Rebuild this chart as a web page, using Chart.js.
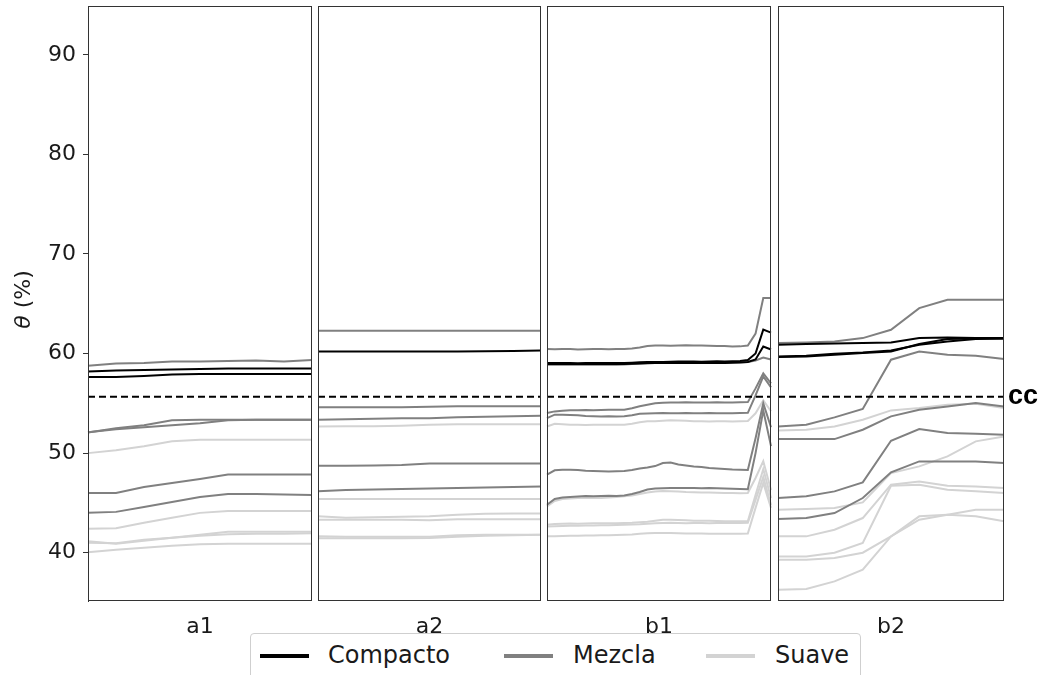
<!DOCTYPE html>
<html>
<head>
<meta charset="utf-8">
<script src="https://cdn.jsdelivr.net/npm/chart.js@4"></script>
<style>
  body { margin: 0; background: #fff; width: 1038px; height: 675px; position: relative; overflow: hidden; font-family: "DejaVu Sans", sans-serif; }
  .panel { position: absolute; top: 0; height: 645px; }
  #legend { position: absolute; left: 250px; top: 633px; width: 609px; height: 50px; border: 1px solid #cfcfcf; border-radius: 4px; background: #fff; }
  .item { position: absolute; top: 7px; font-size: 24px; color: #1a1a1a; line-height: 28px; }
  .sw { position: absolute; top: 20px; width: 49px; height: 4px; }
</style>
</head>
<body>
<div class="panel" style="left:0;width:315px"><canvas id="c0"></canvas></div>
<div class="panel" style="left:315px;width:230px"><canvas id="c1"></canvas></div>
<div class="panel" style="left:545px;width:230px"><canvas id="c2"></canvas></div>
<div class="panel" style="left:775px;width:263px"><canvas id="c3"></canvas></div>
<div id="legend">
  <div class="sw" style="left:9px;background:#000"></div><div class="item" style="left:77px">Compacto</div>
  <div class="sw" style="left:253px;background:#808080"></div><div class="item" style="left:322px">Mezcla</div>
  <div class="sw" style="left:455px;background:#d3d3d3"></div><div class="item" style="left:524px">Suave</div>
</div>
<script>
const panels = ["a1", "a2", "b1", "b2"];
const ccValue = 55.66;
const yTicks = [40, 50, 60, 70, 80, 90];

// panel a1
const a1Compacto = [
  [58.2, 58.3, 58.35, 58.4, 58.45, 58.5, 58.5, 58.5, 58.5],
  [57.65, 57.65, 57.75, 57.9, 57.95, 57.95, 57.95, 57.95, 57.95]
];
const a1Mezcla = [
  [58.78, 59.0, 59.05, 59.2, 59.2, 59.25, 59.3, 59.2, 59.35],
  [52.08, 52.5, 52.8, 53.3, 53.35, 53.35, 53.35, 53.35, 53.35],
  [52.1, 52.4, 52.6, 52.8, 53.0, 53.3, 53.35, 53.35, 53.35],
  [46.0, 46.0, 46.6, 47.0, 47.4, 47.85, 47.85, 47.85, 47.85],
  [44.0, 44.1, 44.6, 45.1, 45.6, 45.9, 45.9, 45.85, 45.8]
];
const a1Suave = [
  [50.0, 50.3, 50.7, 51.2, 51.35, 51.35, 51.35, 51.35, 51.35],
  [42.4, 42.45, 43.0, 43.5, 44.0, 44.2, 44.2, 44.2, 44.2],
  [41.15, 40.9, 41.2, 41.5, 41.8, 42.1, 42.1, 42.1, 42.1],
  [41.0, 40.95, 41.3, 41.5, 41.7, 41.85, 41.9, 41.9, 41.95],
  [40.05, 40.3, 40.5, 40.7, 40.85, 40.9, 40.9, 40.9, 40.9]
];

// panel a2
const a2Compacto = [
  [60.2, 60.2, 60.2, 60.2, 60.2, 60.2, 60.22, 60.25, 60.3]
];
const a2Mezcla = [
  [62.3, 62.3, 62.3, 62.3, 62.3, 62.3, 62.3, 62.3, 62.3],
  [54.6, 54.6, 54.6, 54.6, 54.65, 54.7, 54.7, 54.7, 54.7],
  [53.35, 53.4, 53.45, 53.5, 53.5, 53.6, 53.65, 53.7, 53.75],
  [48.73, 48.73, 48.75, 48.8, 48.95, 48.95, 48.95, 48.95, 48.95],
  [46.16, 46.3, 46.35, 46.4, 46.45, 46.5, 46.55, 46.6, 46.65]
];
const a2Suave = [
  [52.68, 52.7, 52.7, 52.75, 52.85, 52.9, 52.9, 52.9, 52.9],
  [45.4, 45.4, 45.4, 45.4, 45.4, 45.4, 45.4, 45.4, 45.4],
  [43.65, 43.5, 43.55, 43.6, 43.65, 43.8, 43.9, 43.93, 43.93],
  [43.3, 43.3, 43.3, 43.3, 43.25, 43.35, 43.35, 43.35, 43.35],
  [41.64, 41.6, 41.6, 41.6, 41.6, 41.75, 41.8, 41.8, 41.8],
  [41.45, 41.45, 41.45, 41.45, 41.47, 41.6, 41.7, 41.75, 41.8]
];

// panel b1
const b1Compacto = [
  [59.04, 59.04, 59.05, 59.04, 59.03, 59.04, 59.05, 59.04, 59.04, 59.05, 59.05, 59.08, 59.12, 59.15,
   59.15, 59.15, 59.17, 59.2, 59.2, 59.2, 59.18, 59.2, 59.22, 59.2, 59.22, 59.25, 59.35, 60.0, 62.4, 62.1],
  [58.95, 58.95, 58.96, 58.95, 58.95, 58.95, 58.96, 58.95, 58.95, 58.95, 58.96, 58.98, 59.0, 59.02,
   59.05, 59.05, 59.04, 59.05, 59.05, 59.06, 59.05, 59.05, 59.05, 59.06, 59.08, 59.1, 59.15, 59.4, 60.7, 60.4]
];
const b1Mezcla = [
  [60.45, 60.42, 60.45, 60.45, 60.4, 60.43, 60.45, 60.45, 60.42, 60.45, 60.45, 60.5, 60.6, 60.75,
   60.8, 60.8, 60.78, 60.8, 60.82, 60.8, 60.8, 60.78, 60.75, 60.75, 60.7, 60.72, 60.8, 62.0, 65.57, 65.57],
  [58.88, 58.88, 58.88, 58.88, 58.88, 58.88, 58.88, 58.88, 58.88, 58.88, 58.9, 58.95, 59.0, 59.05,
   59.08, 59.1, 59.1, 59.1, 59.1, 59.1, 59.1, 59.1, 59.1, 59.1, 59.12, 59.12, 59.15, 59.3, 59.6, 59.4],
  [54.02, 54.19, 54.25, 54.3, 54.3, 54.32, 54.3, 54.33, 54.35, 54.35, 54.36, 54.5, 54.7, 54.85,
   55.0, 55.05, 55.09, 55.09, 55.1, 55.09, 55.08, 55.09, 55.1, 55.09, 55.09, 55.1, 55.12, 56.5, 58.0, 57.0],
  [53.52, 53.86, 53.86, 53.84, 53.8, 53.72, 53.7, 53.69, 53.7, 53.69, 53.7, 53.8, 53.95, 53.98,
   54.0, 54.02, 54.0, 54.0, 54.02, 54.0, 54.0, 54.02, 54.0, 54.0, 54.0, 54.02, 54.05, 55.8, 57.7, 56.6],
  [47.83, 48.27, 48.33, 48.33, 48.3, 48.22, 48.2, 48.18, 48.15, 48.17, 48.2, 48.3, 48.45, 48.55,
   48.7, 49.0, 49.05, 48.85, 48.75, 48.65, 48.6, 48.5, 48.45, 48.4, 48.35, 48.33, 48.3, 51.5, 55.0, 52.6],
  [44.82, 45.4, 45.55, 45.6, 45.65, 45.7, 45.68, 45.7, 45.72, 45.7, 45.75, 45.9, 46.1, 46.35,
   46.45, 46.48, 46.49, 46.49, 46.5, 46.49, 46.48, 46.49, 46.47, 46.45, 46.42, 46.4, 46.38, 50.0, 54.3, 50.7]
];
const b1Suave = [
  [52.68, 52.95, 52.9, 52.85, 52.85, 52.83, 52.85, 52.85, 52.84, 52.85, 52.85, 52.95, 53.1, 53.2,
   53.2, 53.25, 53.3, 53.28, 53.25, 53.2, 53.2, 53.18, 53.2, 53.2, 53.18, 53.2, 53.22, 54.0, 55.3, 54.2],
  [44.65, 45.2, 45.4, 45.45, 45.5, 45.5, 45.52, 45.5, 45.55, 45.6, 45.66, 45.75, 45.9, 46.05,
   46.15, 46.2, 46.18, 46.15, 46.1, 46.08, 46.05, 46.05, 46.02, 46.0, 46.0, 45.98, 46.0, 47.5, 49.2, 46.3],
  [42.81, 42.88, 42.9, 42.92, 42.9, 42.93, 42.95, 42.95, 42.96, 42.97, 42.98, 43.0, 43.05, 43.1,
   43.2, 43.3, 43.3, 43.28, 43.25, 43.22, 43.2, 43.2, 43.18, 43.17, 43.15, 43.15, 43.15, 45.8, 48.4, 45.5],
  [42.64, 42.66, 42.68, 42.7, 42.7, 42.72, 42.72, 42.75, 42.75, 42.78, 42.8, 42.82, 42.85, 42.9,
   42.95, 42.98, 43.0, 42.98, 42.97, 42.98, 42.98, 42.97, 42.98, 42.98, 42.98, 42.99, 43.0, 45.3, 47.6, 44.8],
  [41.64, 41.66, 41.68, 41.7, 41.7, 41.72, 41.72, 41.75, 41.75, 41.78, 41.8, 41.82, 41.9, 41.95,
   41.98, 41.98, 41.97, 41.95, 41.93, 41.92, 41.92, 41.9, 41.9, 41.9, 41.9, 41.91, 41.92, 44.5, 47.0, 44.5]
];

// panel b2
const b2Compacto = [
  [60.88, 60.95, 61.0, 61.05, 61.1, 61.55, 61.62, 61.55, 61.55],
  [59.71, 59.78, 59.98, 60.11, 60.31, 60.88, 61.22, 61.45, 61.55],
  [59.65, 59.71, 59.88, 60.05, 60.2, 60.95, 61.45, 61.5, 61.48]
];
const b2Mezcla = [
  [61.05, 61.12, 61.22, 61.55, 62.39, 64.56, 65.4, 65.4, 65.4],
  [52.68, 52.85, 53.59, 54.43, 59.38, 60.21, 59.88, 59.78, 59.44],
  [51.41, 51.41, 51.41, 52.35, 53.69, 54.36, 54.69, 55.03, 54.69],
  [45.49, 45.66, 46.16, 47.06, 51.24, 52.42, 52.01, 51.95, 51.85],
  [43.38, 43.48, 43.98, 45.49, 48.07, 49.17, 49.17, 49.17, 49.0]
];
const b2Suave = [
  [52.28, 52.35, 52.68, 53.35, 54.29, 54.52, 54.86, 54.96, 54.52],
  [44.32, 44.38, 44.48, 45.05, 48.0, 48.67, 49.67, 51.18, 51.68],
  [41.64, 41.64, 42.31, 43.48, 46.83, 47.16, 46.73, 46.66, 46.49],
  [39.63, 39.63, 40.0, 40.97, 46.73, 46.83, 46.33, 46.16, 45.99],
  [39.3, 39.3, 39.46, 40.0, 41.64, 43.31, 43.82, 44.32, 44.32],
  [36.29, 36.35, 37.12, 38.29, 41.64, 43.65, 43.82, 43.65, 43.15]
];

const groups = [
  [a1Compacto, a1Mezcla, a1Suave],
  [a2Compacto, a2Mezcla, a2Suave],
  [b1Compacto, b1Mezcla, b1Suave],
  [b2Compacto, b2Mezcla, b2Suave]
];

const styles = [
  { color: "#000000", order: 1 },
  { color: "#808080", order: 2 },
  { color: "#d3d3d3", order: 3 }
];

// canvas paddings (left, right) so plot frames line up with the reference
const pads = [[0, 3], [3, 4], [2, 4], [3, 34]];

const framePlugin = {
  id: "frame",
  afterDraw(chart) {
    const a = chart.chartArea, ctx = chart.ctx;
    ctx.save();
    ctx.strokeStyle = "#333";
    ctx.lineWidth = 1;
    ctx.strokeRect(Math.round(a.left) + 0.5, Math.round(a.top) + 0.5,
      Math.round(a.right - a.left) - 1, Math.round(a.bottom - a.top) - 1);
    ctx.restore();
  }
};

// y title with italic theta
const yTitlePlugin = {
  id: "yTitle",
  afterDraw(chart) {
    const ctx = chart.ctx;
    const a = chart.chartArea;
    ctx.save();
    ctx.translate(24, (a.top + a.bottom) / 2 - 4);
    ctx.rotate(-Math.PI / 2);
    ctx.fillStyle = "#1a1a1a";
    ctx.textBaseline = "middle";
    ctx.font = "italic 22px 'DejaVu Serif', serif";
    const t1 = "θ";
    ctx.font = "22px 'DejaVu Sans', sans-serif";
    const t2 = " (%)";
    const w2 = ctx.measureText(t2).width;
    ctx.font = "italic 22px 'DejaVu Sans', sans-serif";
    const w1 = ctx.measureText(t1).width;
    const x0 = -(w1 + w2) / 2;
    ctx.fillText(t1, x0, 0);
    ctx.font = "22px 'DejaVu Sans', sans-serif";
    ctx.fillText(t2, x0 + w1, 0);
    ctx.restore();
  }
};

const ccPlugin = {
  id: "ccLabel",
  afterDraw(chart) {
    const ctx = chart.ctx;
    const y = chart.scales.y.getPixelForValue(ccValue);
    ctx.save();
    ctx.fillStyle = "#000";
    ctx.font = "bold 27px 'Liberation Sans Narrow', 'Liberation Sans', sans-serif";
    ctx.textBaseline = "middle";
    ctx.fillText("cc", chart.chartArea.right + 4, y);
    ctx.restore();
  }
};

panels.forEach((name, p) => {
  const n = groups[p][0][0].length;
  const labels = [...Array(n).keys()];
  const datasets = [];
  groups[p].forEach((list, k) => {
    list.forEach(vals => {
      datasets.push({
        data: vals,
        borderColor: styles[k].color,
        borderWidth: 2,
        pointRadius: 0,
        fill: false,
        order: styles[k].order
      });
    });
  });
  datasets.push({
    data: labels.map(() => ccValue),
    borderColor: "#000",
    borderWidth: 2,
    borderDash: [7, 4],
    pointRadius: 0,
    fill: false,
    order: 0
  });

  const first = p === 0;
  const extra = [framePlugin];
  if (first) extra.push(yTitlePlugin);
  if (p === 3) extra.push(ccPlugin);

  new Chart(document.getElementById("c" + p), {
    type: "line",
    data: { labels, datasets },
    options: {
      responsive: true,
      maintainAspectRatio: false,
      animation: false,
      events: [],
      layout: { padding: { left: pads[p][0], right: pads[p][1], top: 6, bottom: 0 } },
      plugins: { legend: { display: false }, tooltip: { enabled: false } },
      scales: {
        x: {
          type: "category",
          grid: { display: false },
          border: { display: false },
          ticks: { display: false },
          title: { display: true, text: name, color: "#1a1a1a", font: { family: "DejaVu Sans", size: 22 }, padding: { top: 0, bottom: 5 } },
          afterFit(s) { s.height = 44; }
        },
        y: {
          display: first,
          min: 35.15,
          max: 94.9,
          afterBuildTicks(s) { s.ticks = yTicks.map(v => ({ value: v })); },
          grid: { display: true, drawOnChartArea: false, drawTicks: true, tickLength: 5, color: "#333" },
          border: { display: true, color: "#333" },
          ticks: { color: "#1a1a1a", font: { family: "DejaVu Sans", size: 22 }, padding: 7 },
          title: { display: false },
          afterFit(s) {
            s.width = first ? 88 : 0;
            s.paddingTop = 0;
            s.paddingBottom = 0;
          }
        }
      }
    },
    plugins: extra
  });
});
</script>
</body>
</html>
